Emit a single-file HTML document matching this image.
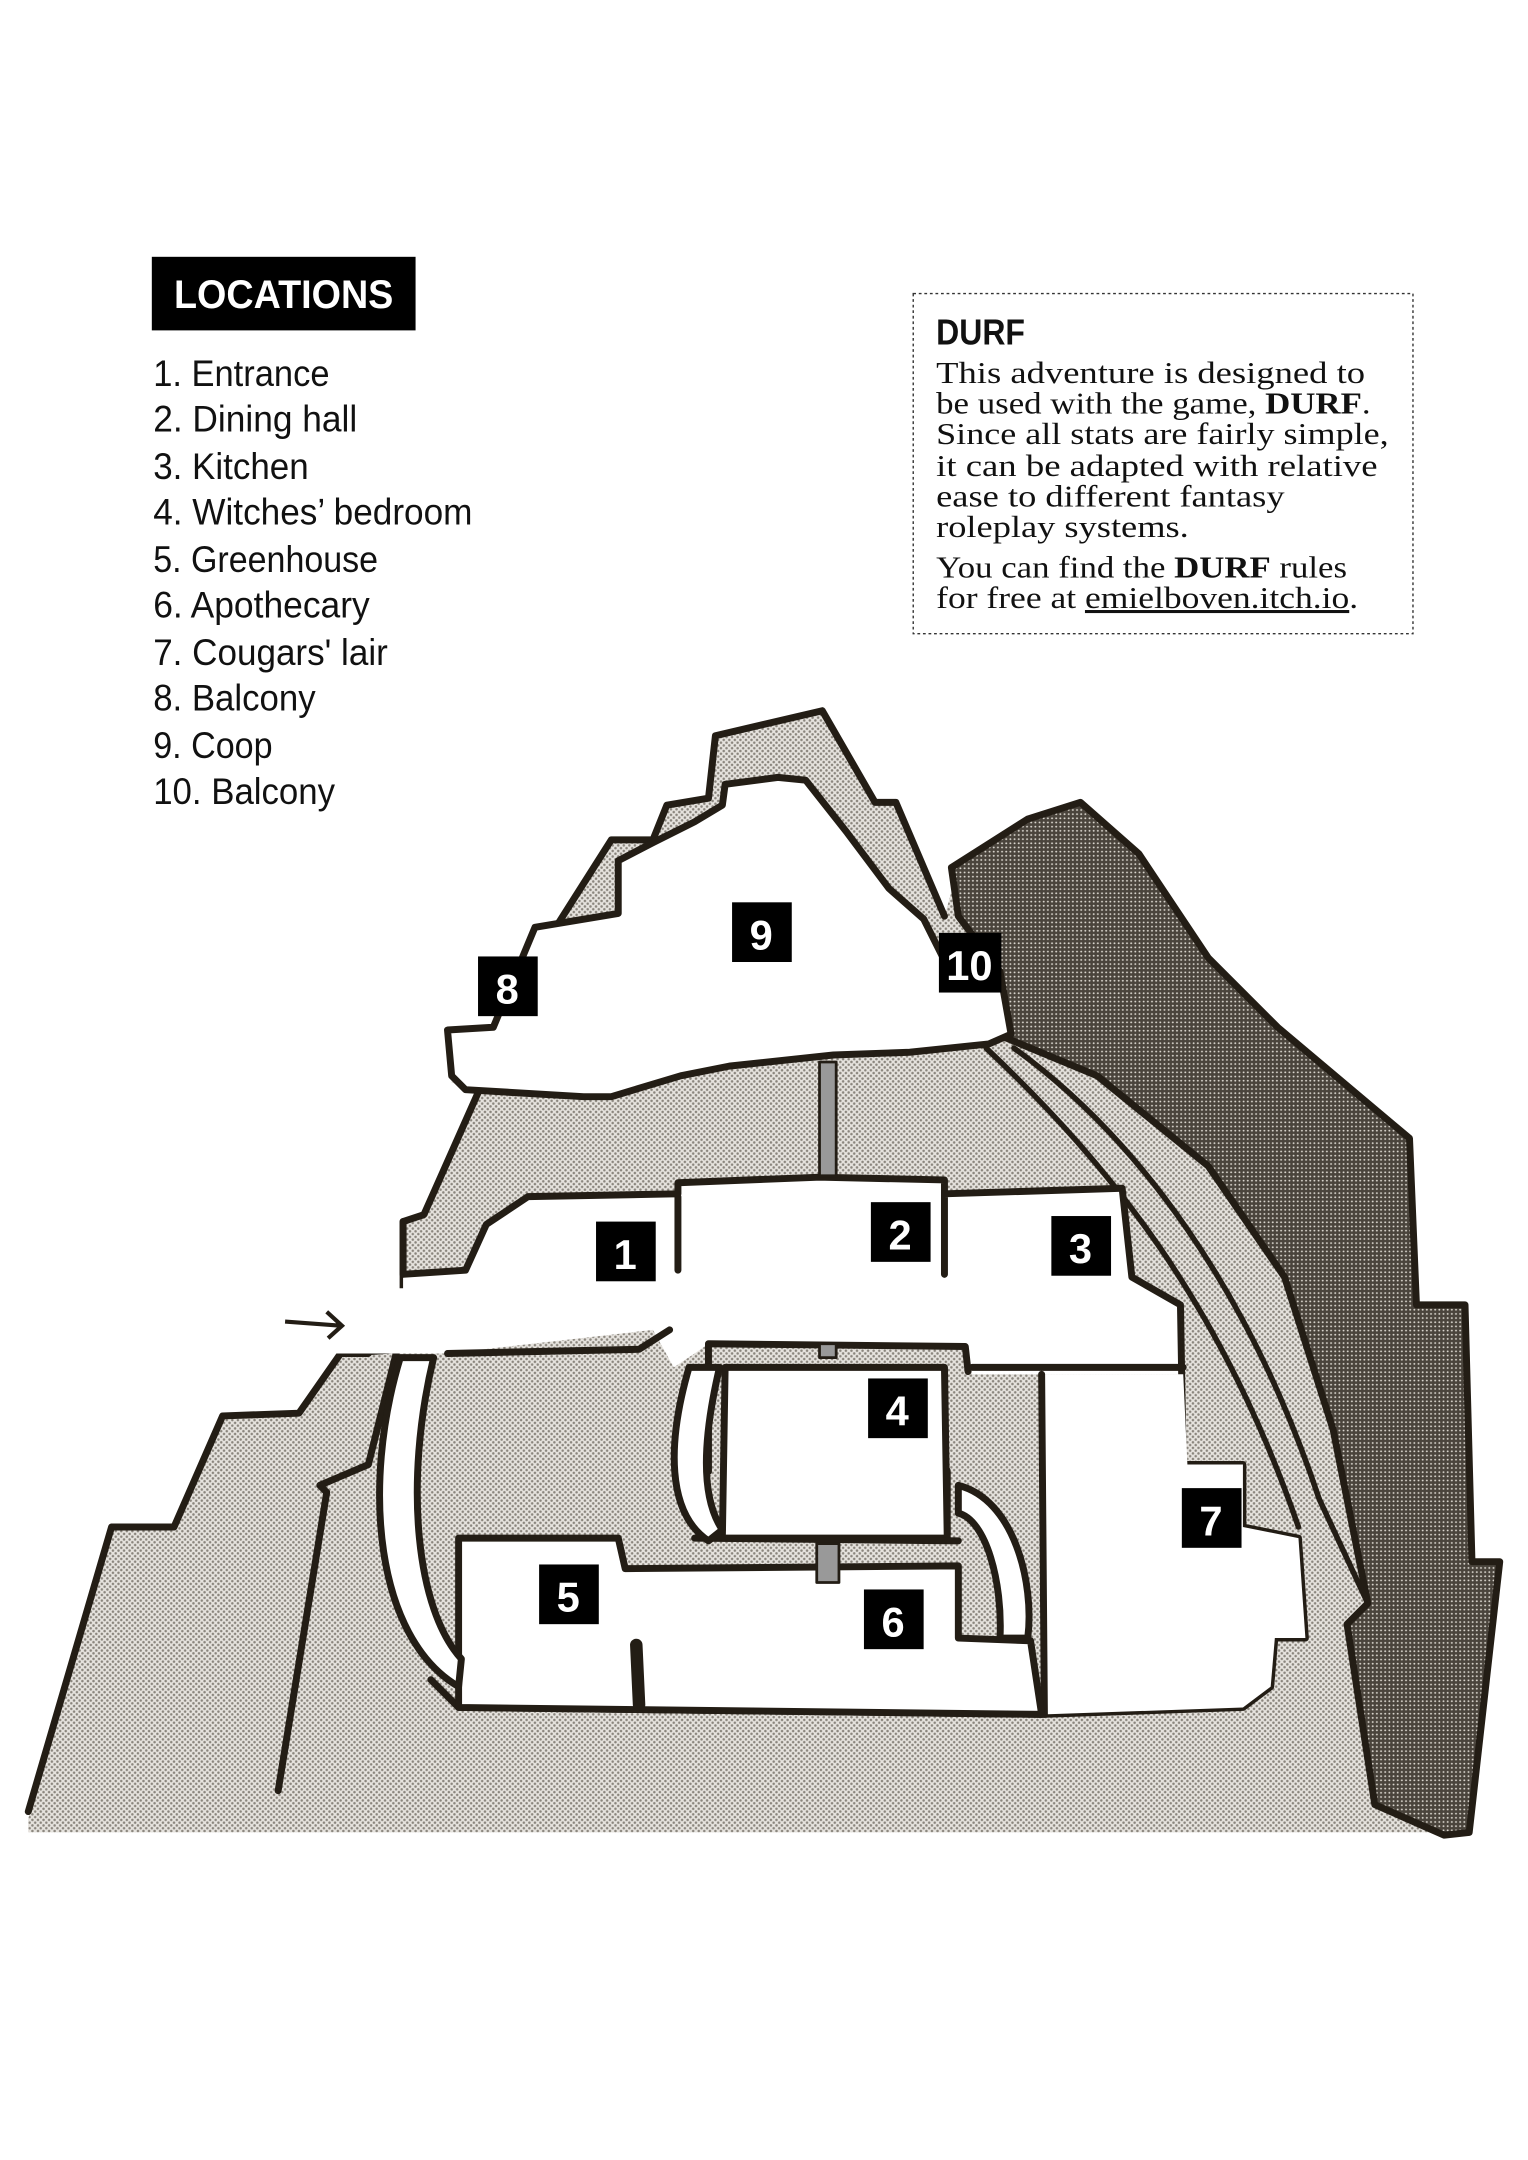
<!DOCTYPE html>
<html><head><meta charset="utf-8"><style>
html,body{margin:0;padding:0;background:#fff;}
body{width:1528px;height:2160px;overflow:hidden;}
svg{display:block}
.lst{font-family:"Liberation Sans Narrow","Liberation Sans",sans-serif;font-size:27px;fill:#111}
.ser{font-family:"Liberation Serif",serif;font-size:22px;fill:#111}
.num{font-family:"Liberation Sans Narrow","Liberation Sans",sans-serif;font-weight:bold;font-size:30px;fill:#fff;text-anchor:middle}
</style></head><body>
<svg width="1528" height="2160" viewBox="0 0 1100 1556" xmlns="http://www.w3.org/2000/svg">
<defs>
<pattern id="lt" width="4" height="4" patternUnits="userSpaceOnUse"><rect width="4" height="4" fill="#e6e3de"/><circle cx="1" cy="1" r="0.9" fill="#8a857d"/><circle cx="3" cy="3" r="0.9" fill="#8a857d"/></pattern>
<pattern id="dk" width="3" height="3" patternUnits="userSpaceOnUse"><rect width="3" height="3" fill="#4a443c"/><circle cx="1.5" cy="1.5" r="0.7" fill="#d8d4cc"/></pattern>
</defs>
<!-- legend -->
<rect x="109" y="185" width="190" height="53" fill="#000"/>
<text x="125" y="222" textLength="158" lengthAdjust="spacingAndGlyphs" font-family="Liberation Sans Narrow, Liberation Sans, sans-serif" font-weight="bold" font-size="29" fill="#fff">LOCATIONS</text>
<g class="lst">
<text x="110" y="278" textLength="127" lengthAdjust="spacingAndGlyphs">1. Entrance</text>
<text x="110" y="311" textLength="147" lengthAdjust="spacingAndGlyphs">2. Dining hall</text>
<text x="110" y="345" textLength="112" lengthAdjust="spacingAndGlyphs">3. Kitchen</text>
<text x="110" y="378" textLength="230" lengthAdjust="spacingAndGlyphs">4. Witches’ bedroom</text>
<text x="110" y="412" textLength="162" lengthAdjust="spacingAndGlyphs">5. Greenhouse</text>
<text x="110" y="445" textLength="156" lengthAdjust="spacingAndGlyphs">6. Apothecary</text>
<text x="110" y="479" textLength="169" lengthAdjust="spacingAndGlyphs">7. Cougars' lair</text>
<text x="110" y="512" textLength="117" lengthAdjust="spacingAndGlyphs">8. Balcony</text>
<text x="110" y="546" textLength="86" lengthAdjust="spacingAndGlyphs">9. Coop</text>
<text x="110" y="579" textLength="131" lengthAdjust="spacingAndGlyphs">10. Balcony</text>
</g>
<rect x="657.5" y="211.5" width="360" height="245" fill="none" stroke="#333" stroke-width="1" stroke-dasharray="2,2"/>
<text x="674" y="248" textLength="64" lengthAdjust="spacingAndGlyphs" font-family="Liberation Sans Narrow, Liberation Sans, sans-serif" font-weight="bold" font-size="26" fill="#111">DURF</text>
<g class="ser">
<text x="674" y="276" textLength="309" lengthAdjust="spacingAndGlyphs">This adventure is designed to</text>
<text x="674" y="298" textLength="313" lengthAdjust="spacingAndGlyphs">be used with the game, <tspan font-weight="bold">DURF</tspan>.</text>
<text x="674" y="320" textLength="326" lengthAdjust="spacingAndGlyphs">Since all stats are fairly simple,</text>
<text x="674" y="343" textLength="318" lengthAdjust="spacingAndGlyphs">it can be adapted with relative</text>
<text x="674" y="365" textLength="251" lengthAdjust="spacingAndGlyphs">ease to different fantasy</text>
<text x="674" y="387" textLength="182" lengthAdjust="spacingAndGlyphs">roleplay systems.</text>
<text x="674" y="416" textLength="296" lengthAdjust="spacingAndGlyphs">You can find the <tspan font-weight="bold">DURF</tspan> rules</text>
<text x="674" y="438" textLength="304" lengthAdjust="spacingAndGlyphs">for free at <tspan text-decoration="underline">emielboven.itch.io</tspan>.</text>
</g>
<!-- map -->
<g stroke="#231d15" stroke-width="5" stroke-linejoin="round" stroke-linecap="round">
<polygon fill="url(#lt)" stroke="none" points="20,1310 80,1100 125,1100 160,1020 215,1018 245,975 290,972 290,880 305,875 345,785 325,780 322,742 355,738 400,668 440,605 470,605 480,580 510,575 515,530 592,512 630,578 645,578 680,660 690,625 740,590 778,578 820,615 870,690 920,740 1015,820 1020,940 1055,940 1060,1125 1080,1125 1060,1320 20,1320"/>
<polygon fill="url(#dk)" points="685,625 740,590 778,578 820,615 870,690 920,740 1015,820 1020,940 1055,940 1060,1125 1080,1125 1058,1320 1040,1322 990,1300 970,1170 985,1155 960,1030 925,920 870,840 790,775 725,748 720,700 690,660"/>
<path fill="none" d="M80,1100 L20,1305 M80,1100 L125,1100 L160,1020 L215,1018 L245,975 L290,972 M245,975 L265,975 M235,1075 L200,1290 M235,1075 L230,1070 L265,1055 L285,975"/>
<path fill="none" d="M290,972 L290,880 L305,875 L345,785 M592,512 L630,578 L645,578 L680,660 M400,668 L440,605 L470,605 L480,580 L510,575 L515,530 L592,512"/>
<path fill="none" stroke-width="4" d="M710,755 C800,840 880,940 935,1100 M730,755 C820,820 900,930 950,1080 L985,1155"/>
<!-- coop -->
<polygon fill="#fff" points="385,668 445,658 445,620 470,607 500,592 520,580 522,565 560,560 580,562 610,600 640,640 665,662 680,692 720,700 728,745 712,752 655,758 600,760 525,768 490,775 440,790 420,790 335,785 325,775 322,742 355,740"/>
<!-- rooms 1-3 and corridor -->
<polygon fill="#fff" points="240,928 290,928 290,918 335,915 350,882 380,862 488,860 488,852 590,848 680,850 680,860 808,856 815,920 850,940 852,990 700,990 695,968 510,968 500,975 485,985 470,958 322,975 270,975 240,975" stroke="none"/>
<path fill="none" d="M290,918 L335,915 L350,882 L380,862 L488,860 L488,852 L590,848 L680,850 L680,860 L808,856 L815,920 L850,940 L852,1055 L895,1055 L895,1100 L935,1108 L940,1180 L918,1180 L915,1215 L895,1230 L750,1235 L330,1230 L310,1210 M488,862 L488,915 M680,860 L680,918 M322,975 L460,972 L482,958 M290,918 L290,880"/>
<!-- room 7 -->
<polygon fill="#fff" stroke="none" points="752,990 852,990 855,1055 895,1055 895,1100 935,1108 940,1180 918,1180 915,1215 895,1230 752,1235"/>
<path fill="none" d="M700,985 L852,985 M750,990 L752,1235"/>
<!-- rooms 5,6 -->
<polygon fill="#fff" points="330,1108 445,1108 450,1130 690,1128 690,1180 742,1182 750,1235 330,1230"/>
<path fill="none" stroke-width="9" d="M458,1185 L460,1228 M680,1060 L680,1105"/>
<!-- room 4 -->
<polygon fill="#fff" points="522,985 680,985 682,1108 520,1108"/>
<path fill="none" d="M510,968 L695,970 L697,988 M510,968 L510,1060 M500,1108 L690,1110"/>
<!-- stairs -->
<path fill="#fff" d="M288,978 C260,1070 270,1180 330,1215 L332,1195 C300,1160 290,1070 312,978 Z"/>
<path fill="#fff" d="M496,985 C480,1040 480,1090 510,1110 L520,1102 C505,1080 505,1040 518,985 Z"/>
<path fill="#fff" d="M690,1070 C730,1080 745,1140 740,1180 L720,1180 C722,1140 710,1095 690,1090 Z"/>
<rect x="590" y="765" width="12" height="82" fill="#999" stroke-width="2"/>
<rect x="590" y="968" width="12" height="10" fill="#999" stroke-width="2"/>
<rect x="588" y="1112" width="16" height="28" fill="#999" stroke-width="2"/>
</g>
<!-- arrow -->
<path d="M205,952 L245,955 M235,945 L246,955 L236,964" fill="none" stroke="#231d15" stroke-width="3"/>
<!-- labels -->
<g>
<rect x="429" y="880" width="43" height="43" fill="#000"/><text class="num" x="450" y="914">1</text>
<rect x="627" y="866" width="43" height="43" fill="#000"/><text class="num" x="648" y="900">2</text>
<rect x="757" y="876" width="43" height="43" fill="#000"/><text class="num" x="778" y="910">3</text>
<rect x="625" y="993" width="43" height="43" fill="#000"/><text class="num" x="646" y="1027">4</text>
<rect x="388" y="1127" width="43" height="43" fill="#000"/><text class="num" x="409" y="1161">5</text>
<rect x="622" y="1145" width="43" height="43" fill="#000"/><text class="num" x="643" y="1179">6</text>
<rect x="851" y="1072" width="43" height="43" fill="#000"/><text class="num" x="872" y="1106">7</text>
<rect x="344" y="689" width="43" height="43" fill="#000"/><text class="num" x="365" y="723">8</text>
<rect x="527" y="650" width="43" height="43" fill="#000"/><text class="num" x="548" y="684">9</text>
<rect x="676" y="672" width="45" height="43" fill="#000"/><text class="num" x="698" y="706">10</text>
</g>
</svg>
</body></html>
